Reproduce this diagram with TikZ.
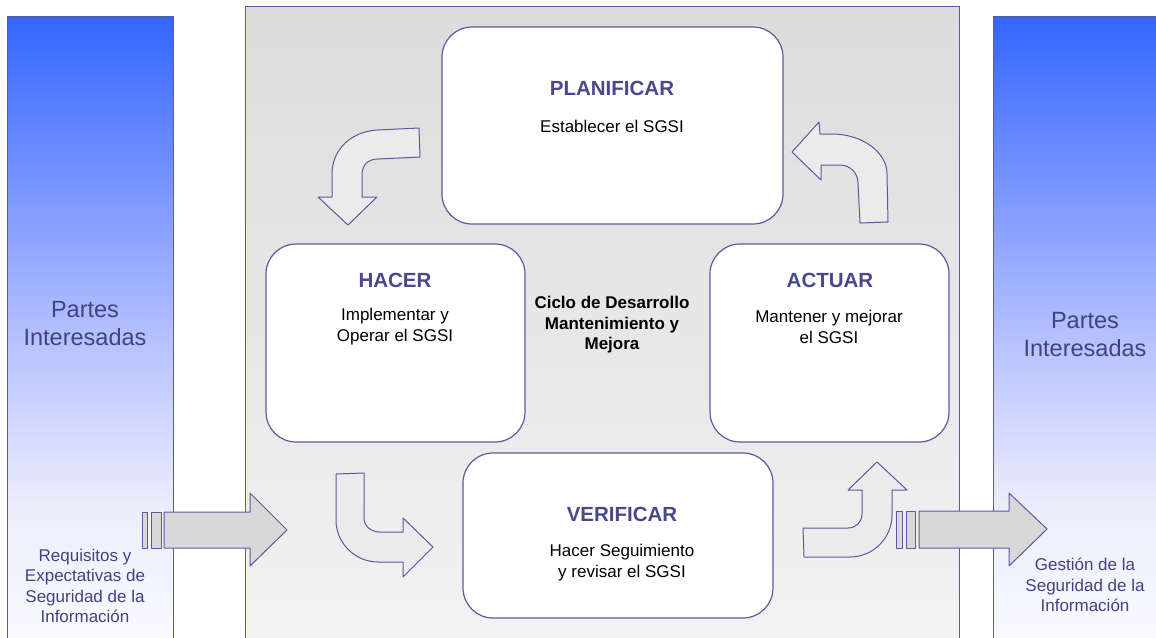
\documentclass[tikz,border=0pt]{standalone}
\usepackage{fontspec}
\setmainfont{Liberation Sans}

\definecolor{linea}{RGB}{90,90,160}
\definecolor{azultitulo}{RGB}{72,72,140}
\definecolor{azultexto}{RGB}{66,66,128}
\definecolor{flechaclara}{RGB}{235,235,235}
\definecolor{flechagris}{RGB}{216,216,216}
\definecolor{panelA}{RGB}{220,220,220}
\definecolor{panelB}{RGB}{242,242,242}
\definecolor{barraA}{RGB}{51,102,255}
\definecolor{barraB}{RGB}{115,145,255}
\definecolor{barraC}{RGB}{178,190,255}
\definecolor{barraD}{RGB}{236,236,252}
\definecolor{barraE}{RGB}{250,250,255}
\pgfdeclareverticalshading{barra}{100bp}{color(0bp)=(barraE); color(25bp)=(barraE); color(36bp)=(barraD); color(50bp)=(barraC); color(62.5bp)=(barraB); color(75bp)=(barraA); color(100bp)=(barraA)}

\begin{document}
\begin{tikzpicture}[x=1pt, y=-1pt,
    caja/.style={draw=linea, fill=white, line width=1.2pt, rounded corners=30pt, inner sep=0pt},
    titulo/.style={text=azultitulo, font=\fontsize{20.5pt}{24pt}\selectfont\bfseries},
    texto/.style={align=center, font=\fontsize{17pt}{21pt}\selectfont},
    lateral/.style={text=azultexto, align=center, font=\fontsize{23.5pt}{28pt}\selectfont},
    nota/.style={text=azultexto, align=center, font=\fontsize{17pt}{20.5pt}\selectfont},
    curva/.style={draw=linea, fill=flechaclara, line width=1pt, line join=round},
    recta/.style={draw=linea, fill=flechagris, line width=1pt, line join=round}]
        %\draw[gray!40] (0,0) grid[xstep=50,ystep=50] (1156,637);
        \useasboundingbox (0,0) rectangle (1156,637);
        \clip (0,0) rectangle (1156,637);

        \shade[shading=barra, draw=linea, line width=1pt] (7,16) rectangle (173,640) (993,16) rectangle (1160,640);
        \shade[top color=panelA, bottom color=panelB, draw=linea, line width=1pt] (245,6) rectangle (959,640);

        % flechas curvas
        \filldraw[curva] (419,128) -- (378,130) .. controls (352,131) and (332,149) .. (332,174) -- (332,197) -- (318,197) -- (348,225) -- (377,197) -- (362,197) -- (362,175) .. controls (362,165) and (368,159) .. (378,159) -- (420,157) -- cycle;
        \filldraw[curva] (860,223) -- (888,222) -- (887,174) .. controls (887,152) and (862,134) .. (832,134) -- (820,134) -- (819,122) -- (792,152) -- (821,180) -- (821,165) -- (840,165) .. controls (850,165) and (858,173) .. (858,183) -- cycle;
        \filldraw[curva] (336,474) -- (364,473) -- (364,518) .. controls (364,526) and (371,532) .. (380,532) -- (403,532) -- (403,518) -- (433,547) -- (403,577) -- (403,562) -- (378,562) .. controls (355,562) and (336,543) .. (336,520) -- cycle;
        \filldraw[curva] (803,528) -- (804,557) -- (850,557) .. controls (873,557) and (892,538) .. (892,515) -- (892,490) -- (907,490) -- (877,462) -- (848,490) -- (862,490) -- (862,514) .. controls (862,522) and (856,528) .. (848,528) -- cycle;

        % flechas de entrada y salida
        \filldraw[recta] (142,512) rectangle (147,548) (151,512) rectangle (161,548);
        \filldraw[recta] (164,512) -- (250,512) -- (250,493) -- (287,530) -- (250,566) -- (250,548) -- (164,548) -- cycle;
        \filldraw[recta] (896,511) rectangle (902,548) (906,511) rectangle (915,548);
        \filldraw[recta] (919,511) -- (1009,511) -- (1009,493) -- (1047,529) -- (1009,566) -- (1009,548) -- (919,548) -- cycle;

        \node[caja, minimum width=341pt, minimum height=197pt] (plan) at (612.5,125.5) {};
        \node[caja, minimum width=259pt, minimum height=198pt] (hacer) at (395.5,343) {};
        \node[caja, minimum width=239pt, minimum height=198pt] (actuar) at (829.5,343) {};
        \node[caja, minimum width=310pt, minimum height=165pt] (verif) at (618,535.5) {};

        \node[titulo] (planT) at (612,88) {PLANIFICAR};
        \node[texto] (planS) at (612,126) {Establecer el SGSI};
        \node[titulo] (hacerT) at (395,280) {HACER};
        \node[texto] (hacerS) at (395,327) {Implementar y\\Operar el SGSI};
        \node[titulo] (actuarT) at (830,280) {ACTUAR};
        \node[texto] (actuarS) at (829,327) {Mantener y mejorar\\el SGSI};
        \node[titulo] (verifT) at (622,514) {VERIFICAR};
        \node[texto] (verifS) at (622,563) {Hacer Seguimiento\\y revisar el SGSI};
        \node[texto, font=\fontsize{17pt}{20.5pt}\selectfont\bfseries] (ciclo) at (612,325) {Ciclo de Desarrollo\\Mantenimiento y\\Mejora};

        \node[lateral] (partesI) at (85,324) {Partes\\Interesadas};
        \node[lateral] (partesD) at (1085,335) {Partes\\Interesadas};
        \node[nota] (requisitos) at (85,586) {Requisitos y\\Expectativas de\\Seguridad de la\\Información};
        \node[nota] (gestion) at (1085,585) {Gestión de la\\Seguridad de la\\Información};
    \end{tikzpicture}
\end{document}
